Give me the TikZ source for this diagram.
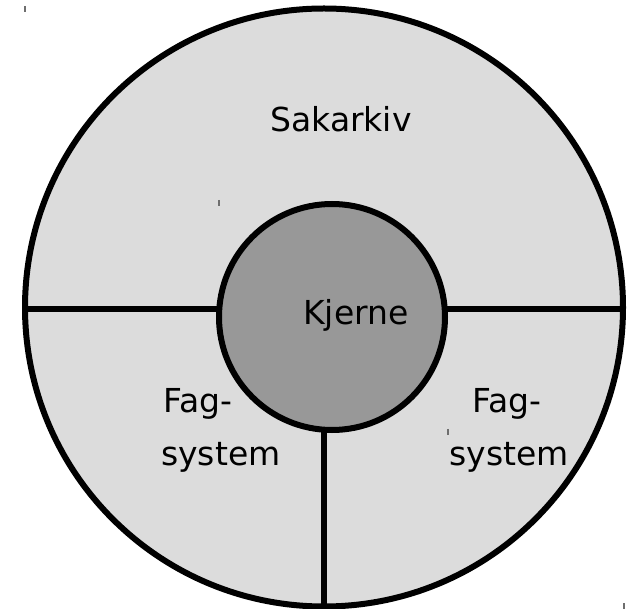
\documentclass[tikz,border=0pt]{standalone}
\usepackage{fontspec}
\setmainfont{DejaVu Sans}
\definecolor{outerfill}{RGB}{220,220,220}
\definecolor{innerfill}{RGB}{152,152,152}
\definecolor{tickgray}{RGB}{110,110,110}
\begin{document}
\begin{tikzpicture}[x=1pt,y=-1pt,
  ring/.style={circle, draw=black, line width=6pt, outer sep=0pt, inner sep=0pt},
  divider/.style={draw=black, line width=5.5pt},
  txt/.style={font=\fontsize{33}{52}\selectfont, inner sep=0pt, text=black},
  tickmark/.style={draw=tickgray, line width=1.5pt}]
\useasboundingbox (0,0) rectangle (632,609);
\node[ring, fill=outerfill, minimum size=598pt] (outer) at (324,307.5) {};
\node[ring, fill=innerfill, minimum size=226pt] (inner) at (332,317) {};
\draw[divider] (inner.176 -| outer.west) -- (inner.176);
\draw[divider] (inner.4) -- (inner.4 -| outer.east);
\draw[divider] (inner.266) -- (inner.266 |- outer.south);
\node[txt, anchor=base] (sak) at (341,132) {Sakarkiv};
\node[txt, anchor=base] (kj) at (356,325) {Kjerne};
\node[txt, anchor=base west] (fagL1) at (163,413) {Fag-};
\node[txt, anchor=base west] (fagL2) at (161,465) {system};
\node[txt, anchor=base] (fagR1) at (507,413) {Fag-};
\node[txt, anchor=base] (fagR2) at (509,465) {system};
\draw[tickmark] (25,6) -- (25,12);
\draw[tickmark] (219,200) -- (219,206);
\draw[tickmark] (448,429) -- (448,435);
\draw[tickmark] (624,603) -- (624,609);
\end{tikzpicture}
\end{document}
